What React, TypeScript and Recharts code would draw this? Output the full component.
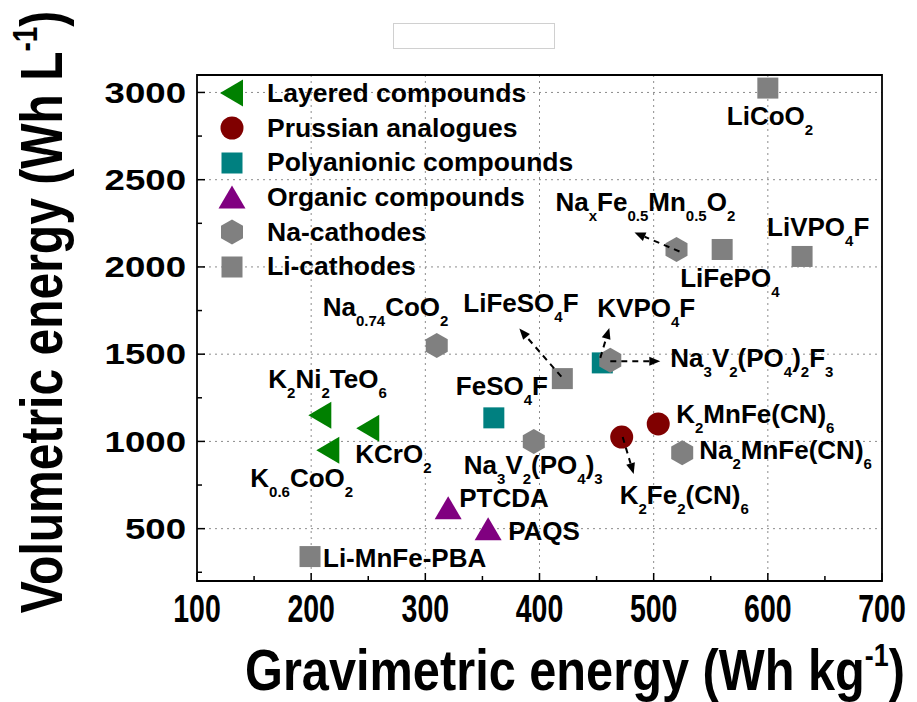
import React from 'react';
import { ScatterChart, Scatter, XAxis, YAxis, CartesianGrid, ReferenceArea, Legend, Label } from 'recharts';

// ---------------- data ----------------
const layered = [
  { name: 'K2Ni2TeO6', x: 208, y: 1150 },
  { name: 'KCrO2', x: 250, y: 1075 },
  { name: 'K0.6CoO2', x: 215, y: 950 },
];
const prussian = [
  { name: 'K2Fe2(CN)6', x: 472, y: 1025 },
  { name: 'K2MnFe(CN)6', x: 504, y: 1100 },
];
const polyanionic = [
  { name: 'FeSO4F', x: 360, y: 1135 },
  { name: 'KVPO4F', x: 455, y: 1450 },
];
const organic = [
  { name: 'PTCDA', x: 320, y: 620 },
  { name: 'PAQS', x: 355, y: 500 },
];
const naCathodes = [
  { name: 'Na0.74CoO2', x: 310, y: 1550 },
  { name: 'NaxFe0.5Mn0.5O2', x: 520, y: 2100 },
  { name: 'Na3V2(PO4)2F3', x: 462, y: 1465 },
  { name: 'Na3V2(PO4)3', x: 395, y: 1000 },
  { name: 'Na2MnFe(CN)6', x: 525, y: 935 },
];
const liCathodes = [
  { name: 'LiCoO2', x: 600, y: 3025 },
  { name: 'LiFePO4', x: 560, y: 2100 },
  { name: 'LiVPO4F', x: 630, y: 2060 },
  { name: 'LiFeSO4F', x: 420, y: 1360 },
  { name: 'Li-MnFe-PBA', x: 199, y: 340 },
];

const seriesNames = [
  'Layered compounds',
  'Prussian analogues',
  'Polyanionic compounds',
  'Organic compounds',
  'Na-cathodes',
  'Li-cathodes',
];

const labelTexts: Record<string, string> = {
  'K2Ni2TeO6': 'K_{2}Ni_{2}TeO_{6}',
  'KCrO2': 'KCrO_{2}',
  'K0.6CoO2': 'K_{0.6}CoO_{2}',
  'K2Fe2(CN)6': 'K_{2}Fe_{2}(CN)_{6}',
  'K2MnFe(CN)6': 'K_{2}MnFe(CN)_{6}',
  'FeSO4F': 'FeSO_{4}F',
  'KVPO4F': 'KVPO_{4}F',
  'PTCDA': 'PTCDA',
  'PAQS': 'PAQS',
  'Na0.74CoO2': 'Na_{0.74}CoO_{2}',
  'NaxFe0.5Mn0.5O2': 'Na_{x}Fe_{0.5}Mn_{0.5}O_{2}',
  'Na3V2(PO4)2F3': 'Na_{3}V_{2}(PO_{4})_{2}F_{3}',
  'Na3V2(PO4)3': 'Na_{3}V_{2}(PO_{4})_{3}',
  'Na2MnFe(CN)6': 'Na_{2}MnFe(CN)_{6}',
  'LiCoO2': 'LiCoO_{2}',
  'LiFePO4': 'LiFePO_{4}',
  'LiVPO4F': 'LiVPO_{4}F',
  'LiFeSO4F': 'LiFeSO_{4}F',
  'Li-MnFe-PBA': 'Li-MnFe-PBA',
};

const xTicks = [100, 150, 200, 250, 300, 350, 400, 450, 500, 550, 600, 650, 700];
const yTicks = [250, 500, 750, 1000, 1250, 1500, 1750, 2000, 2250, 2500, 2750, 3000];
const xGridValues = [200, 300, 400, 500, 600];
const yGridValues = [500, 1000, 1500, 2000, 2500, 3000];
const xTitle = 'Gravimetric energy (Wh kg^{-1})';
const yTitle = 'Volumetric energy (Wh L^{-1})';

// ---------------- styles ----------------
const FONT = '"Liberation Sans", Arial, Helvetica, sans-serif';
const COLORS = ['#008000', '#800000', '#008080', '#800080', '#808080', '#808080'];
const SHAPES = ['leftTri', 'circle', 'square', 'upTri', 'hex', 'square'];

// label offsets in px relative to marker centre: [dx, dy(baseline)]
const LABEL_OFFSETS: Record<string, [number, number]> = {
  'LiCoO2': [-41, 37],
  'NaxFe0.5Mn0.5O2': [-121, -38],
  'LiVPO4F': [-35, -20],
  'LiFePO4': [-42, 38],
  'KVPO4F': [-5, -46],
  'LiFeSO4F': [-99, -67],
  'Na0.74CoO2': [-114, -29],
  'K2Ni2TeO6': [-52, -27],
  'FeSO4F': [-38, -23],
  'KCrO2': [-13, 35],
  'K0.6CoO2': [-78, 37],
  'Na3V2(PO4)3': [-70, 33],
  'PTCDA': [11, -1],
  'PAQS': [20, 11],
  'Li-MnFe-PBA': [13, 10],
  'K2Fe2(CN)6': [-2, 67],
  'K2MnFe(CN)6': [18, -1],
  'Na2MnFe(CN)6': [17, 6],
  'Na3V2(PO4)2F3': [60, 7],
};
// arrows: [fromDx, fromDy, toDx, toDy]
const ARROWS: Record<string, [number, number, number, number]> = {
  'NaxFe0.5Mn0.5O2': [3, 2, -42, -17],
  'LiFeSO4F': [-1, -2, -43, -50],
  'KVPO4F': [-2, -5, 7, -35],
  'Na3V2(PO4)2F3': [0, 1, 50, 1],
  'K2Fe2(CN)6': [1, 0, 12, 37],
};

function parseRich(s: string) {
  const out: { t: string; mode: string }[] = [];
  const re = /([_^])\{([^}]*)\}/g;
  let last = 0;
  let m: RegExpExecArray | null;
  while ((m = re.exec(s))) {
    if (m.index > last) out.push({ t: s.slice(last, m.index), mode: 'n' });
    out.push({ t: m[2], mode: m[1] === '_' ? 'sub' : 'sup' });
    last = re.lastIndex;
  }
  if (last < s.length) out.push({ t: s.slice(last), mode: 'n' });
  return out;
}

function richSpans(text: string, size: number, small: number, subShift: number, supShift: number) {
  const parts = parseRich(text);
  let cur = 0;
  return parts.map((p, i) => {
    const target = p.mode === 'sub' ? subShift : p.mode === 'sup' ? -supShift : 0;
    const dy = target - cur;
    cur = target;
    return (
      <tspan key={i} dy={dy} fontSize={p.mode === 'n' ? size : small}>
        {p.t}
      </tspan>
    );
  });
}

function marker(shape: string, cx: number, cy: number, color: string) {
  switch (shape) {
    case 'leftTri':
      return <polygon points={`${cx - 12},${cy} ${cx + 11},${cy - 13.5} ${cx + 11},${cy + 13.5}`} fill={color} />;
    case 'circle':
      return <circle cx={cx} cy={cy} r={11.5} fill={color} />;
    case 'square':
      return <rect x={cx - 10.5} y={cy - 10.5} width={21} height={21} fill={color} />;
    case 'upTri':
      return <polygon points={`${cx},${cy - 11.5} ${cx + 13.5},${cy + 11.5} ${cx - 13.5},${cy + 11.5}`} fill={color} />;
    case 'hex':
    default:
      return (
        <polygon
          points={`${cx},${cy - 12.5} ${cx + 11},${cy - 6.25} ${cx + 11},${cy + 6.25} ${cx},${cy + 12.5} ${cx - 11},${cy + 6.25} ${cx - 11},${cy - 6.25}`}
          fill={color}
        />
      );
  }
}

const makeShape = (idx: number) => (props: any) => {
  const { cx, cy } = props;
  if (cx == null || cy == null) return <g />;
  return marker(SHAPES[idx], cx, cy, COLORS[idx]);
};

function Arrow({ x1, y1, x2, y2 }: { x1: number; y1: number; x2: number; y2: number }) {
  const ang = Math.atan2(y2 - y1, x2 - x1);
  const c = Math.cos(ang);
  const s = Math.sin(ang);
  const hl = 11;
  const hw = 4.5;
  const bx = x2 - hl * c;
  const by = y2 - hl * s;
  return (
    <g>
      <line x1={x1} y1={y1} x2={bx} y2={by} stroke="#000" strokeWidth={2} strokeDasharray="6 5" />
      <polygon points={`${x2},${y2} ${bx + hw * s},${by - hw * c} ${bx - hw * s},${by + hw * c}`} fill="#000" />
    </g>
  );
}

const annotationShape = (props: any) => {
  const { cx, cy, payload } = props;
  if (cx == null || cy == null || !payload) return <g />;
  const name = payload.name;
  const off = LABEL_OFFSETS[name] || [12, 0];
  const ar = ARROWS[name];
  return (
    <g>
      {ar && <Arrow x1={cx + ar[0]} y1={cy + ar[1]} x2={cx + ar[2]} y2={cy + ar[3]} />}
      <text x={cx + off[0]} y={cy + off[1]} fontFamily={FONT} fontWeight="bold" fontSize={26} fill="#000">
        {richSpans(labelTexts[name] || name, 26, 15, 10, 10)}
      </text>
    </g>
  );
};

const XTick = (props: any) => {
  const { x, y, payload } = props;
  const v = payload.value;
  const major = v % 100 === 0;
  return (
    <g>
      <line x1={x} x2={x} y1={y} y2={y - (major ? 8 : 5)} stroke="#000" strokeWidth={1.5} />
      {major && (
        <text
          transform={`translate(${x},${y + 27}) scale(0.73,1)`}
          textAnchor="middle"
          dominantBaseline="central"
          fontFamily={FONT}
          fontWeight="bold"
          fontSize={39}
          fill="#000"
        >
          {v}
        </text>
      )}
    </g>
  );
};

const YTick = (props: any) => {
  const { x, y, payload } = props;
  const v = payload.value;
  const major = v % 500 === 0;
  return (
    <g>
      <line x1={x} x2={x + (major ? 8 : 5)} y1={y} y2={y} stroke="#000" strokeWidth={1.5} />
      {major && (
        <text
          transform={`translate(${x - 11},${y}) scale(1.22,1)`}
          textAnchor="end"
          dominantBaseline="central"
          fontFamily={FONT}
          fontWeight="bold"
          fontSize={30}
          fill="#000"
        >
          {v}
        </text>
      )}
    </g>
  );
};

const XTitle = () => (
  <text
    transform="translate(575,690) scale(0.84,1)"
    textAnchor="middle"
    fontFamily={FONT}
    fontWeight="bold"
    fontSize={58}
    fill="#000"
  >
    {richSpans(xTitle, 58, 32, 0, 24)}
  </text>
);

const YTitle = () => (
  <text
    transform="translate(62,312) rotate(-90) scale(1,1.25)"
    textAnchor="middle"
    fontFamily={FONT}
    fontWeight="bold"
    fontSize={48}
    fill="#000"
  >
    {richSpans(yTitle, 48, 28, 0, 20)}
  </text>
);

const LegendContent = () => (
  <div style={{ fontFamily: FONT, fontWeight: 'bold', fontSize: 26.5, color: '#000' }}>
    {seriesNames.map((n, i) => (
      <div key={n} style={{ position: 'relative', height: 34.67, lineHeight: '34.67px', whiteSpace: 'nowrap' }}>
        <svg width={30} height={30} style={{ position: 'absolute', left: 0, top: 2.33 }}>
          {marker(SHAPES[i], 15, 15, COLORS[i])}
        </svg>
        <span style={{ marginLeft: 50 }}>{n}</span>
      </div>
    ))}
  </div>
);

const allPoints = [...layered, ...prussian, ...polyanionic, ...organic, ...naCathodes, ...liCathodes];
const seriesData = [layered, prussian, polyanionic, organic, naCathodes, liCathodes];

export default function App() {
  return (
    <div style={{ position: 'absolute', left: 0, top: 0, width: 917, height: 702, background: '#fff' }}>
      <div
        style={{
          position: 'absolute',
          left: 393,
          top: 23,
          width: 162,
          height: 26,
          border: '1px solid #d0d0d0',
          boxSizing: 'border-box',
        }}
      />
      <ScatterChart width={917} height={702} margin={{ top: 75, right: 35, left: 0, bottom: 0 }}>
        <CartesianGrid
          stroke="#8c8c8c"
          strokeDasharray="2 4"
          verticalValues={xGridValues}
          horizontalValues={yGridValues}
        />
        <XAxis
          type="number"
          dataKey="x"
          domain={[100, 700]}
          ticks={xTicks}
          interval={0}
          height={121}
          tickSize={0}
          tickMargin={0}
          axisLine={false}
          tickLine={false}
          tick={<XTick />}
          allowDataOverflow
        >
          <Label content={<XTitle />} />
        </XAxis>
        <YAxis
          type="number"
          dataKey="y"
          domain={[200, 3100]}
          ticks={yTicks}
          interval={0}
          width={197}
          tickSize={0}
          tickMargin={0}
          axisLine={false}
          tickLine={false}
          tick={<YTick />}
          allowDataOverflow
        >
          <Label content={<YTitle />} />
        </YAxis>
        <ReferenceArea
          x1={100}
          x2={700}
          y1={200}
          y2={3100}
          fill="none"
          fillOpacity={0}
          stroke="#000"
          strokeWidth={1.8}
          ifOverflow="visible"
        />
        {seriesData.map((d, i) => (
          <Scatter
            key={seriesNames[i]}
            name={seriesNames[i]}
            data={d}
            fill={COLORS[i]}
            shape={makeShape(i)}
            isAnimationActive={false}
          />
        ))}
        <Scatter name="labels" data={allPoints} shape={annotationShape} isAnimationActive={false} legendType="none" />
        <Legend
          layout="vertical"
          align="center"
          verticalAlign="middle"
          content={<LegendContent />}
          wrapperStyle={{ position: 'absolute', left: 217, top: 76, width: 'auto', height: 'auto' }}
        />
      </ScatterChart>
    </div>
  );
}
